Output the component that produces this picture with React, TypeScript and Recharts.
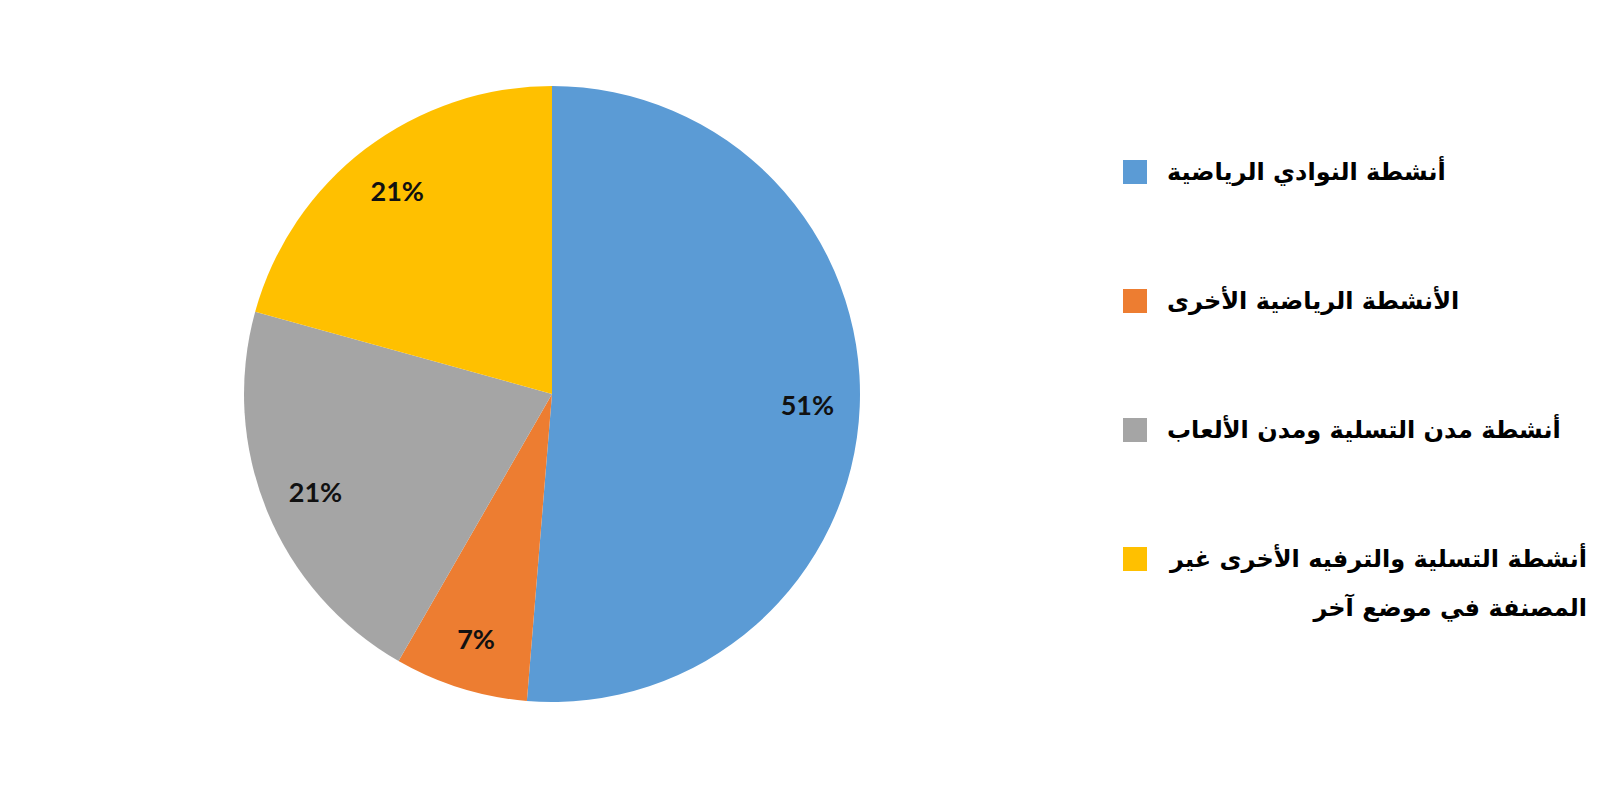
import { Cell, Legend, Pie, PieChart } from "recharts";

document.body.style.margin = "0";

const categories = [
  "أنشطة النوادي الرياضية",
  "الأنشطة الرياضية الأخرى",
  "أنشطة مدن التسلية ومدن الألعاب",
  "أنشطة التسلية والترفيه الأخرى غير المصنفة في موضع آخر",
];
const shares = [51.3, 7.0, 21.0, 20.7];
const colors = ["#5B9BD5", "#ED7D31", "#A5A5A5", "#FFC000"];

const data = categories.map((name, i) => ({ name, value: shares[i] }));

const RAD = Math.PI / 180;

function renderLabel(props: any) {
  const { cx, cy, midAngle, outerRadius, value } = props;
  const r = outerRadius * 0.83;
  const x = cx + r * Math.cos(-midAngle * RAD);
  const y = cy + r * Math.sin(-midAngle * RAD);
  return (
    <text
      x={x}
      y={y}
      textAnchor="middle"
      dominantBaseline="central"
      fill="#111"
      fontFamily="Lato, 'Open Sans', sans-serif"
      fontWeight="bold"
      fontSize={27}
    >
      {`${Math.round(value)}%`}
    </text>
  );
}

function LegendList({ payload }: any) {
  // keep the legend in data order (recharts sorts it by default)
  const items = [...(payload || [])].sort(
    (a: any, b: any) => categories.indexOf(a.value) - categories.indexOf(b.value)
  );
  return (
    <div style={{ fontFamily: "'DejaVu Sans', sans-serif", fontWeight: "bold" }}>
      {items.map((entry: any, i: number) => (
        <div
          key={i}
          style={{ display: "flex", alignItems: "flex-start", height: 129 }}
        >
          <div
            style={{
              width: 24,
              height: 24,
              marginTop: 12,
              background: entry.color,
              flex: "none",
            }}
          />
          <div
            dir="rtl"
            style={{
              marginLeft: 20,
              fontSize: 24,
              lineHeight: "49px",
              color: "#000",
              maxWidth: 420,
              textAlign: "right",
            }}
          >
            {entry.value}
          </div>
        </div>
      ))}
    </div>
  );
}

export default function App() {
  return (
    <PieChart
      width={1600}
      height={788}
      margin={{ top: 0, right: 0, bottom: 0, left: 0 }}
    >
      <Pie
        data={data}
        dataKey="value"
        nameKey="name"
        cx={552}
        cy={394}
        outerRadius={308}
        startAngle={90}
        endAngle={-270}
        stroke="none"
        label={renderLabel}
        labelLine={false}
        isAnimationActive={false}
      >
        {data.map((_, i) => (
          <Cell key={i} fill={colors[i]} />
        ))}
      </Pie>
      <Legend
        layout="vertical"
        content={<LegendList />}
        wrapperStyle={{ left: 1123, top: 148, width: 470 }}
      />
    </PieChart>
  );
}
